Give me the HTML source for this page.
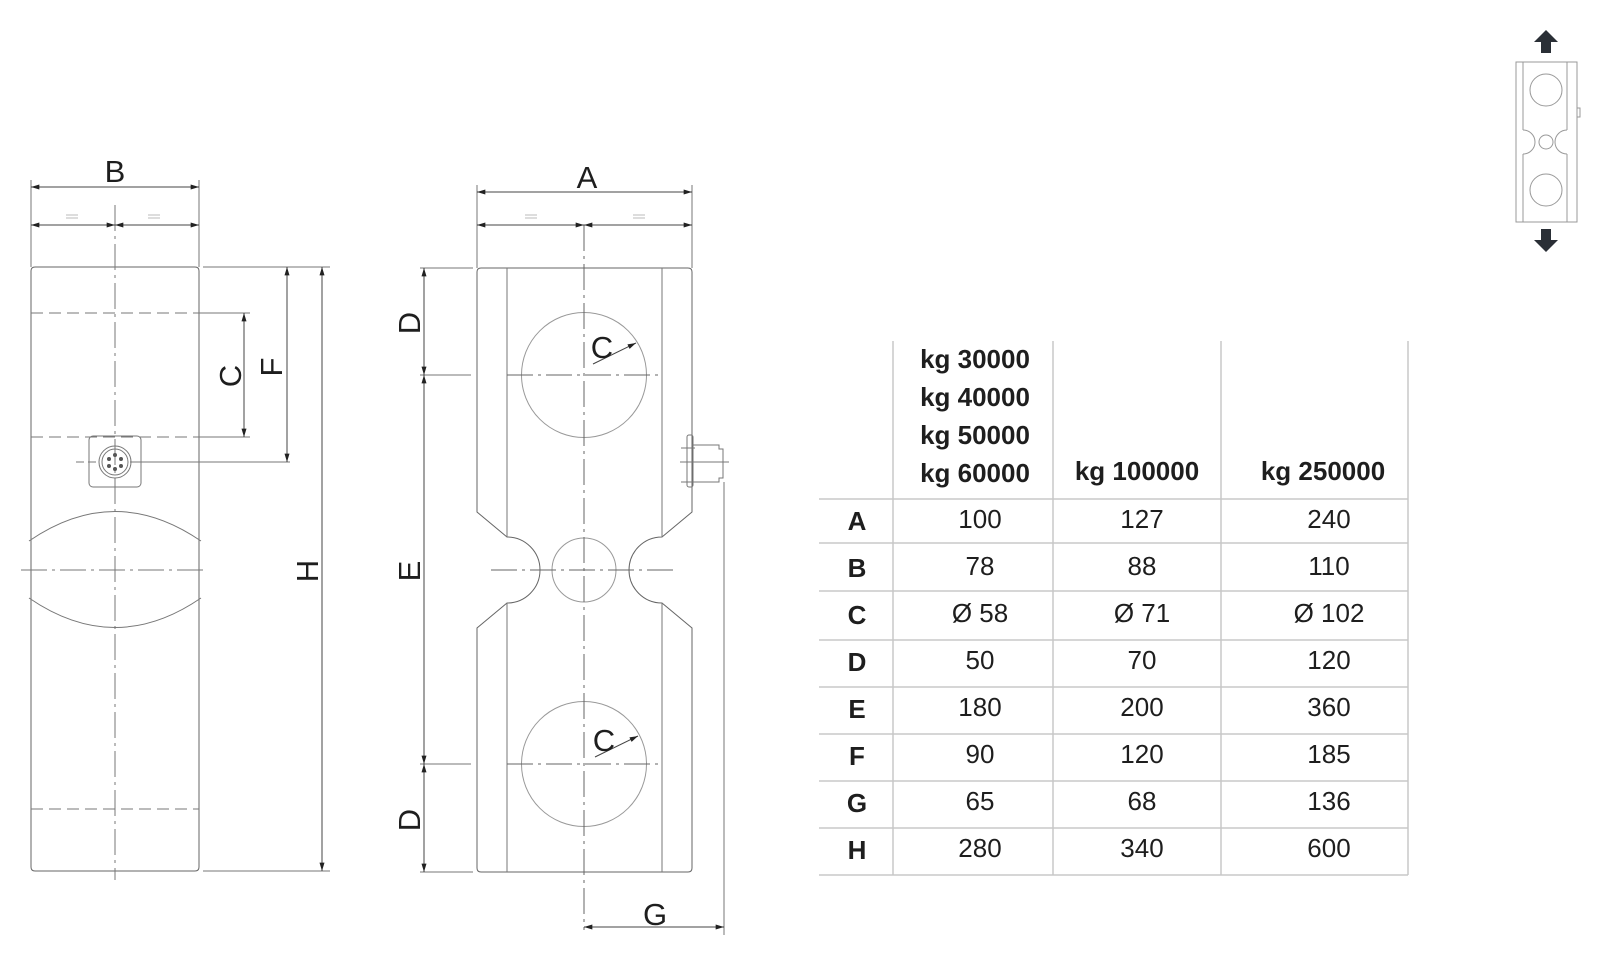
<!DOCTYPE html>
<html><head><meta charset="utf-8"><style>
html,body{margin:0;padding:0;background:#fff;}
svg{display:block;}
text{font-family:"Liberation Sans",sans-serif;fill:#1e1e1e;}
.t{font-size:26px;text-anchor:middle;}
.h{font-size:26px;font-weight:bold;text-anchor:middle;}
.d{font-size:31px;text-anchor:middle;}
</style></head><body>
<svg width="1600" height="960" viewBox="0 0 1600 960" xmlns="http://www.w3.org/2000/svg">
<defs>
<marker id="a" viewBox="0 0 10 6" refX="10" refY="3" markerWidth="13" markerHeight="5" orient="auto-start-reverse" markerUnits="userSpaceOnUse"><path d="M0,0L10,3L0,6z" fill="#222"/></marker>
</defs>
<g fill="none" stroke="#777" stroke-width="1">
<!-- LEFT VIEW -->
<path d="M31,271 Q31,267 35,267 L195,267 Q199,267 199,271 L199,867 Q199,871 195,871 L35,871 Q31,871 31,867 Z" stroke="#666"/>
<line x1="115" y1="205" x2="115" y2="880" stroke-dasharray="26,5,3,5"/>
<line x1="31" y1="313" x2="199" y2="313" stroke-dasharray="12,6"/>
<line x1="31" y1="437" x2="199" y2="437" stroke-dasharray="12,6"/>
<line x1="31" y1="809" x2="199" y2="809" stroke-dasharray="12,6"/>
<line x1="21" y1="570" x2="206" y2="570" stroke-dasharray="26,5,3,5"/>
<path d="M29,541 Q115,482 201,541"/>
<path d="M29,598 Q115,657 201,598"/>
<rect x="89" y="436" width="52" height="51" rx="4"/>
<circle cx="115" cy="462" r="16"/><circle cx="115" cy="462" r="13"/>
<g fill="#555" stroke="none"><circle cx="115" cy="455" r="2"/><circle cx="109" cy="459" r="2"/><circle cx="121" cy="459" r="2"/><circle cx="109" cy="466" r="2"/><circle cx="121" cy="466" r="2"/><circle cx="115" cy="469" r="2"/></g>
<line x1="76" y1="462" x2="100" y2="462" stroke-dasharray="8,4"/><line x1="130" y1="462" x2="290" y2="462"/>
<!-- B dims -->
<line x1="31" y1="180" x2="31" y2="267"/><line x1="199" y1="180" x2="199" y2="267"/>
<line x1="31" y1="187" x2="199" y2="187" marker-start="url(#a)" marker-end="url(#a)" stroke="#444"/>
<line x1="31" y1="225" x2="115" y2="225" marker-start="url(#a)" marker-end="url(#a)" stroke="#444"/>
<line x1="115" y1="225" x2="199" y2="225" marker-start="url(#a)" marker-end="url(#a)" stroke="#444"/>
<path d="M66,215h12M66,218h12M148,215h12M148,218h12" stroke="#bbb"/>
<!-- C, F, H -->
<line x1="199" y1="313" x2="250" y2="313"/><line x1="199" y1="437" x2="250" y2="437"/>
<line x1="244" y1="313" x2="244" y2="437" marker-start="url(#a)" marker-end="url(#a)" stroke="#444"/>
<line x1="203" y1="267" x2="330" y2="267"/><line x1="203" y1="871" x2="330" y2="871"/>
<line x1="287" y1="267" x2="287" y2="462" marker-start="url(#a)" marker-end="url(#a)" stroke="#444"/>
<line x1="322" y1="267" x2="322" y2="871" marker-start="url(#a)" marker-end="url(#a)" stroke="#444"/>

<!-- MIDDLE VIEW -->
<path d="M477,272 Q477,268 481,268 L688,268 Q692,268 692,272 L692,512 L662,537 A33,33 0 0 0 662,603 L692,628 L692,868 Q692,872 688,872 L481,872 Q477,872 477,868 L477,628 L507,603 A33,33 0 0 0 507,537 L477,512 Z" stroke="#666"/>
<line x1="507" y1="268" x2="507" y2="537"/><line x1="507" y1="603" x2="507" y2="872"/>
<line x1="662" y1="268" x2="662" y2="537"/><line x1="662" y1="603" x2="662" y2="872"/>
<circle cx="584" cy="375" r="62.5" stroke="#999"/>
<circle cx="584" cy="764" r="62.5" stroke="#999"/>
<circle cx="584" cy="570" r="32" stroke="#999"/>
<line x1="584" y1="225" x2="584" y2="930" stroke="#666" stroke-dasharray="26,5,3,5"/>
<line x1="507" y1="375" x2="662" y2="375" stroke="#666" stroke-dasharray="26,5,3,5"/>
<line x1="507" y1="764" x2="662" y2="764" stroke="#666" stroke-dasharray="26,5,3,5"/>
<line x1="491" y1="570" x2="675" y2="570" stroke="#666" stroke-dasharray="26,5,3,5"/>
<line x1="593" y1="364" x2="636" y2="343" stroke="#444" marker-end="url(#a)"/>
<line x1="595" y1="757" x2="638" y2="736" stroke="#444" marker-end="url(#a)"/>
<!-- connector -->
<rect x="687" y="435" width="6" height="52" rx="2"/>
<path d="M692,445 L719,445 L719,449 L723,449 L723,478 L719,478 L719,482 L692,482"/>
<line x1="681" y1="448" x2="695" y2="448"/><line x1="681" y1="482" x2="695" y2="482"/>
<line x1="680" y1="462" x2="729" y2="462"/>
<line x1="724" y1="482" x2="724" y2="935"/>
<!-- A dims -->
<line x1="477" y1="185" x2="477" y2="268"/><line x1="692" y1="185" x2="692" y2="268"/>
<line x1="477" y1="192" x2="692" y2="192" marker-start="url(#a)" marker-end="url(#a)" stroke="#444"/>
<line x1="477" y1="225" x2="584" y2="225" marker-start="url(#a)" marker-end="url(#a)" stroke="#444"/>
<line x1="584" y1="225" x2="692" y2="225" marker-start="url(#a)" marker-end="url(#a)" stroke="#444"/>
<path d="M525,215h12M525,218h12M633,215h12M633,218h12" stroke="#bbb"/>
<!-- D E -->
<line x1="420" y1="268" x2="473" y2="268"/><line x1="420" y1="375" x2="471" y2="375"/>
<line x1="420" y1="764" x2="471" y2="764"/><line x1="420" y1="872" x2="473" y2="872"/>
<line x1="424" y1="268" x2="424" y2="375" marker-start="url(#a)" marker-end="url(#a)" stroke="#444"/>
<line x1="424" y1="375" x2="424" y2="764" marker-start="url(#a)" marker-end="url(#a)" stroke="#444"/>
<line x1="424" y1="764" x2="424" y2="872" marker-start="url(#a)" marker-end="url(#a)" stroke="#444"/>
<!-- G -->
<line x1="584" y1="927" x2="724" y2="927" marker-start="url(#a)" marker-end="url(#a)" stroke="#444"/>

<!-- TABLE -->
<g stroke="#c8c8c8" stroke-width="1.5">
<line x1="893" y1="341" x2="893" y2="875"/><line x1="1053" y1="341" x2="1053" y2="875"/>
<line x1="1221" y1="341" x2="1221" y2="875"/><line x1="1408" y1="341" x2="1408" y2="875"/>
<line x1="819" y1="499" x2="1408" y2="499"/><line x1="819" y1="543" x2="1408" y2="543"/>
<line x1="819" y1="591" x2="1408" y2="591"/><line x1="819" y1="640" x2="1408" y2="640"/>
<line x1="819" y1="687" x2="1408" y2="687"/><line x1="819" y1="734" x2="1408" y2="734"/>
<line x1="819" y1="781" x2="1408" y2="781"/><line x1="819" y1="828" x2="1408" y2="828"/>
<line x1="819" y1="875" x2="1408" y2="875"/>
</g>

<!-- ICON -->
<g stroke="#999">
<rect x="1516" y="62" width="61" height="160"/>
<path d="M1523,62V130M1567,62V130M1523,154V222M1567,154V222"/>
<circle cx="1546" cy="90" r="16"/><circle cx="1546" cy="190" r="16"/><circle cx="1546" cy="142" r="7"/>
<rect x="1577" y="108" width="3" height="9"/>
</g>
<path d="M1523,130 A12,12 0 0 1 1523,154 M1567,130 A12,12 0 0 0 1567,154" stroke="#999" fill="#fff"/>
</g>
<path d="M1546,30 L1558,42 L1551,42 L1551,53 L1541,53 L1541,42 L1534,42 Z" fill="#2a2f36"/>
<path d="M1546,252 L1558,240 L1551,240 L1551,229 L1541,229 L1541,240 L1534,240 Z" fill="#2a2f36"/>

<!-- LABELS -->
<text class="d" x="115" y="182">B</text>
<text class="d" x="587" y="188">A</text>
<text class="d" x="655" y="925">G</text>
<text class="d" transform="translate(241,376) rotate(-90)">C</text>
<text class="d" transform="translate(282,367) rotate(-90)">F</text>
<text class="d" transform="translate(318,571) rotate(-90)">H</text>
<text class="d" transform="translate(420,323) rotate(-90)">D</text>
<text class="d" transform="translate(420,571) rotate(-90)">E</text>
<text class="d" transform="translate(420,820) rotate(-90)">D</text>
<text class="d" x="602" y="358">C</text>
<text class="d" x="604" y="751">C</text>

<text class="h" x="975" y="368">kg 30000</text>
<text class="h" x="975" y="406">kg 40000</text>
<text class="h" x="975" y="444">kg 50000</text>
<text class="h" x="975" y="482">kg 60000</text>
<text class="h" x="1137" y="480">kg 100000</text>
<text class="h" x="1323" y="480">kg 250000</text>

<g>
<text class="h" x="857" y="530">A</text><text class="t" x="980" y="528">100</text><text class="t" x="1142" y="528">127</text><text class="t" x="1329" y="528">240</text>
<text class="h" x="857" y="577">B</text><text class="t" x="980" y="575">78</text><text class="t" x="1142" y="575">88</text><text class="t" x="1329" y="575">110</text>
<text class="h" x="857" y="624">C</text><text class="t" x="980" y="622">Ø 58</text><text class="t" x="1142" y="622">Ø 71</text><text class="t" x="1329" y="622">Ø 102</text>
<text class="h" x="857" y="671">D</text><text class="t" x="980" y="669">50</text><text class="t" x="1142" y="669">70</text><text class="t" x="1329" y="669">120</text>
<text class="h" x="857" y="718">E</text><text class="t" x="980" y="716">180</text><text class="t" x="1142" y="716">200</text><text class="t" x="1329" y="716">360</text>
<text class="h" x="857" y="765">F</text><text class="t" x="980" y="763">90</text><text class="t" x="1142" y="763">120</text><text class="t" x="1329" y="763">185</text>
<text class="h" x="857" y="812">G</text><text class="t" x="980" y="810">65</text><text class="t" x="1142" y="810">68</text><text class="t" x="1329" y="810">136</text>
<text class="h" x="857" y="859">H</text><text class="t" x="980" y="857">280</text><text class="t" x="1142" y="857">340</text><text class="t" x="1329" y="857">600</text>
</g>
</svg>
</body></html>
